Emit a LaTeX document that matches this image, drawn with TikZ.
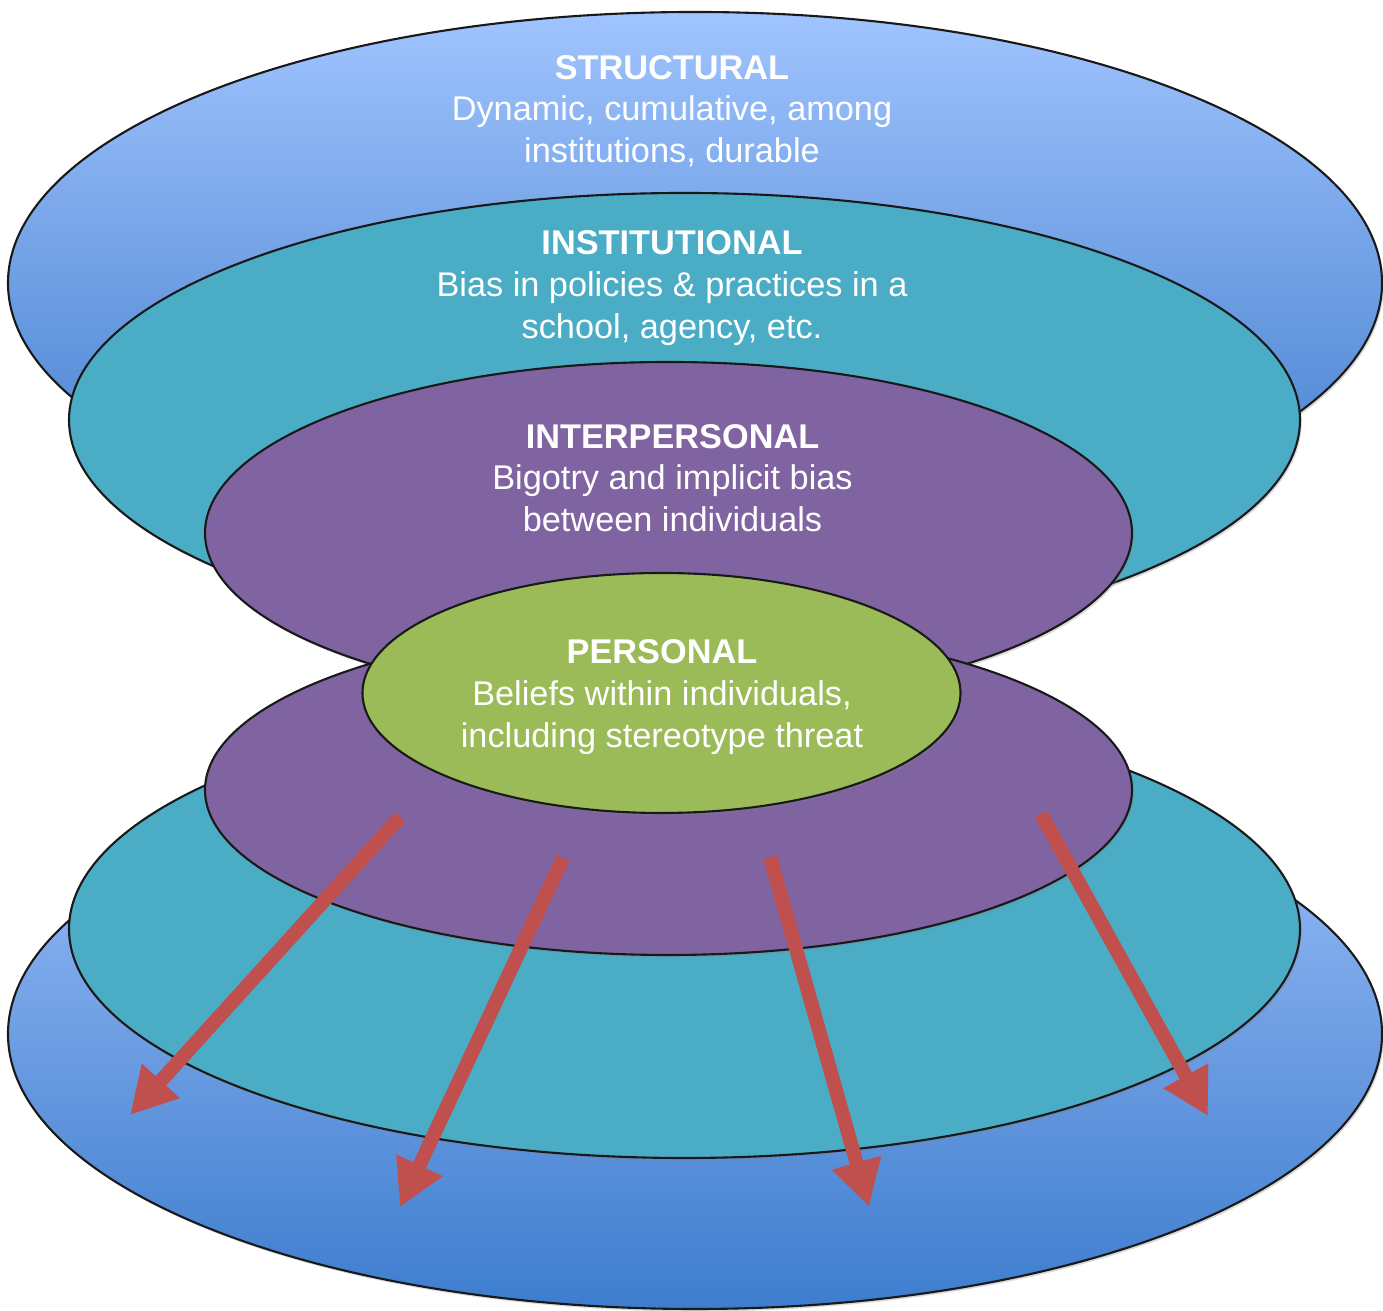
\documentclass[tikz,border=0pt]{standalone}
\usepackage{fontspec}
\setmainfont{Liberation Sans}
\usetikzlibrary{arrows.meta,shapes.geometric,shadows}

\definecolor{structlight}{HTML}{A0C4FF}
\definecolor{structmid}{HTML}{6E9EE3}
\definecolor{structdark}{HTML}{3D7DCE}
\definecolor{instteal}{HTML}{4BACC6}
\definecolor{interpurple}{HTML}{8064A2}
\definecolor{persgreen}{HTML}{9BBB59}
\definecolor{arrowred}{HTML}{C0504D}

\begin{document}
\begin{tikzpicture}
  [
  font=\fontsize{9.76}{11.85}\selectfont,
  ringnode/.style={ellipse, inner sep=0pt, draw=black!90, line width=0.6pt,
    drop shadow={shadow xshift=0.5pt, shadow yshift=-0.7pt, opacity=0.3}},
  structring/.style={ringnode, top color=structlight, bottom color=structdark, middle color=structmid},
  labelnode/.style={align=center, text=white, inner sep=0pt},
  flowarrow/.style={draw=arrowred, line width=1.4mm, -{Triangle[length=4.6mm, width=4.8mm]}},
  ]
  \useasboundingbox (0,0) rectangle (13.83,13.11);

  % upper half of the stack
  \node[structring, minimum width=13.74cm, minimum height=5.42cm] (sTop) at (6.95,10.28) {};
  \node[ringnode, fill=instteal, minimum width=12.31cm, minimum height=4.54cm] (iTop) at (6.845,8.91) {};
  \node[ringnode, fill=interpurple, minimum width=9.27cm, minimum height=3.42cm] (pTop) at (6.685,7.78) {};

  % lower half
  \node[structring, minimum width=13.74cm, minimum height=5.50cm] (sBot) at (6.95,2.77) {};
  \node[ringnode, fill=instteal, minimum width=12.31cm, minimum height=4.58cm] (iBot) at (6.845,3.82) {};
  \node[ringnode, fill=interpurple, minimum width=9.27cm, minimum height=3.30cm] (pBot) at (6.685,5.21) {};

  \node[ringnode, fill=persgreen, minimum width=5.98cm, minimum height=2.40cm] (core) at (6.615,6.18) {};
  \node[labelnode] (cText) at (6.62,6.14) {\textbf{PERSONAL}\\Beliefs within individuals,\\including stereotype threat};

  \node[labelnode] (sText) at (6.72,12.00) {\textbf{STRUCTURAL}\\Dynamic, cumulative, among\\institutions, durable};
  \node[labelnode] (iText) at (6.72,10.23) {\textbf{INSTITUTIONAL}\\Bias in policies \& practices in a\\school, agency, etc.};
  \node[labelnode] (pText) at (6.725,8.33) {\textbf{INTERPERSONAL}\\Bigotry and implicit bias\\between individuals};

  \foreach \i/\sx/\sy/\tx/\ty in {1/4.00/4.94/1.30/1.96, 2/5.63/4.53/4.00/1.04,
                                  3/7.70/4.54/8.69/1.04, 4/10.41/4.97/12.08/1.95} {
    \coordinate (start\i) at (\sx,\sy);
    \coordinate (tip\i) at (\tx,\ty);
    \draw[flowarrow] (start\i) -- (tip\i);
  }

\end{tikzpicture}
\end{document}
